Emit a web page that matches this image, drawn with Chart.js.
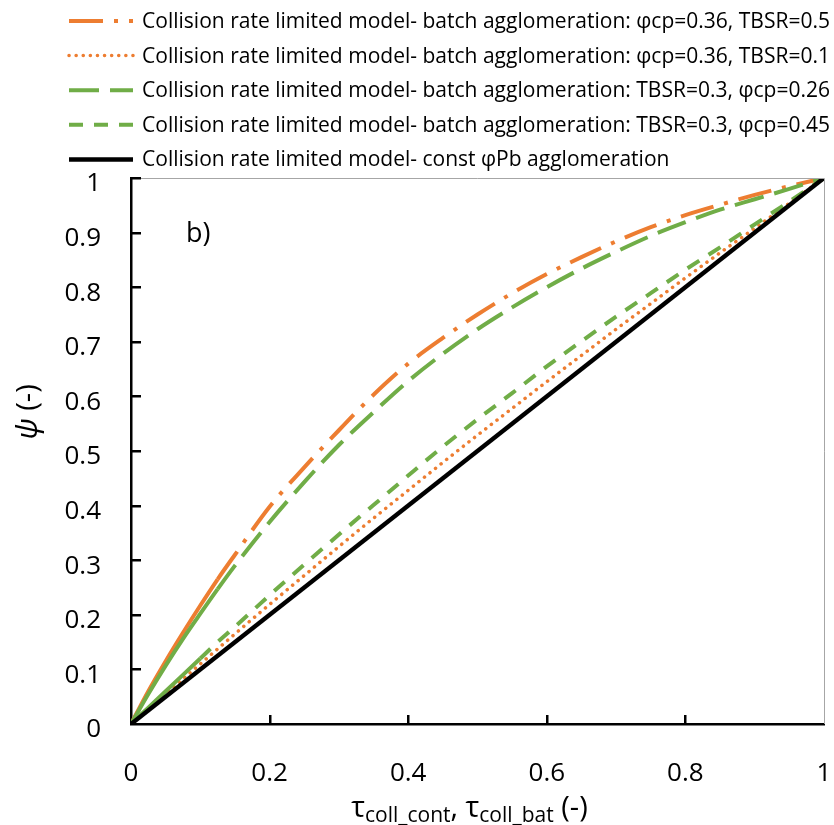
<!DOCTYPE html>
<html>
<head>
<meta charset="utf-8">
<script src="https://cdn.jsdelivr.net/npm/chart.js@4.4.1/dist/chart.umd.min.js"></script>
<style>
  html, body { margin: 0; padding: 0; background: #fff; }
  #wrap { width: 834px; height: 825px; }
</style>
</head>
<body>
<div id="wrap"><canvas id="myChart" width="834" height="825"></canvas></div>
<script>
// tau values (x) shared by the batch curves
const tau = [0, 0.025, 0.05, 0.075, 0.1, 0.125, 0.15, 0.2, 0.25, 0.3, 0.35, 0.4, 0.45, 0.5, 0.55, 0.6, 0.65, 0.7, 0.75, 0.8, 0.85, 0.9, 0.95, 1];
// psi values
const psiCp036Tbsr05 = [0, 0.06, 0.115, 0.167, 0.217, 0.265, 0.31, 0.398, 0.47, 0.538, 0.603, 0.66, 0.707, 0.75, 0.789, 0.824, 0.855, 0.884, 0.91, 0.932, 0.951, 0.969, 0.985, 1];
const psiCp036Tbsr01 = [0, 0.0275, 0.055, 0.0825, 0.11, 0.1375, 0.165, 0.219, 0.272, 0.325, 0.377, 0.428, 0.479, 0.529, 0.578, 0.627, 0.675, 0.723, 0.77, 0.817, 0.863, 0.908, 0.954, 1];
const psiTbsr03Cp026 = [0, 0.055, 0.107, 0.156, 0.202, 0.247, 0.29, 0.37, 0.443, 0.511, 0.571, 0.628, 0.678, 0.723, 0.763, 0.8, 0.834, 0.865, 0.894, 0.919, 0.942, 0.961, 0.98, 1];
const psiTbsr03Cp045 = [0, 0.03, 0.06, 0.09, 0.12, 0.15, 0.178, 0.236, 0.292, 0.347, 0.401, 0.455, 0.508, 0.558, 0.606, 0.655, 0.701, 0.746, 0.789, 0.832, 0.873, 0.915, 0.957, 1];
// constant phiPb agglomeration
const tauConst = [0, 1];
const psiConst = [0, 1];

const seriesLabels = [
  'Collision rate limited model- batch agglomeration: \u03c6cp=0.36, TBSR=0.5',
  'Collision rate limited model- batch agglomeration: \u03c6cp=0.36, TBSR=0.1',
  'Collision rate limited model- batch agglomeration: TBSR=0.3, \u03c6cp=0.26',
  'Collision rate limited model- batch agglomeration: TBSR=0.3, \u03c6cp=0.45',
  'Collision rate limited model- const \u03c6Pb agglomeration'
];
const xTicks = [0, 0.2, 0.4, 0.6, 0.8, 1];

const ORANGE = '#ed7d31';
const GREEN = '#70ad47';
const FONT = "'Open Sans', 'Liberation Sans', sans-serif";

function pts(xs, ys) {
  return xs.map((x, i) => ({ x: x, y: ys[i] }));
}
// first stretch of some curves is drawn solid in the original
function solidStart(limit) {
  return { borderDash: c => (c.p1.parsed.x <= limit ? [] : undefined) };
}

const datasets = [
  { label: seriesLabels[0], data: pts(tau, psiCp036Tbsr05), borderColor: ORANGE, borderWidth: 4,
    borderDash: [34, 11, 4, 11], segment: solidStart(0.125), order: 4 },
  { label: seriesLabels[1], data: pts(tau, psiCp036Tbsr01), borderColor: ORANGE, borderWidth: 3.5,
    borderDash: [0.1, 7], borderCapStyle: 'round', order: 3 },
  { label: seriesLabels[2], data: pts(tau, psiTbsr03Cp026), borderColor: GREEN, borderWidth: 4,
    borderDash: [30, 11], segment: solidStart(0.125), order: 2 },
  { label: seriesLabels[3], data: pts(tau, psiTbsr03Cp045), borderColor: GREEN, borderWidth: 4,
    borderDash: [14, 11], segment: solidStart(0.1), order: 1 },
  { label: seriesLabels[4], data: pts(tauConst, psiConst), borderColor: '#000', borderWidth: 4.5,
    borderDash: [], order: 0 }
];

// legend, axis titles, inner ticks and frame
const decor = {
  id: 'decor',
  afterDraw(chart) {
    const { ctx, chartArea: a, scales: { x, y } } = chart;
    ctx.save();

    // gray top / right frame
    ctx.strokeStyle = '#a6a6a6';
    ctx.lineWidth = 1;
    ctx.beginPath();
    ctx.moveTo(a.left, a.top + 0.5);
    ctx.lineTo(a.right + 0.5, a.top + 0.5);
    ctx.lineTo(a.right + 0.5, a.bottom);
    ctx.stroke();

    // inward tick marks
    ctx.strokeStyle = '#000';
    ctx.lineWidth = 2.5;
    ctx.beginPath();
    y.ticks.forEach(t => {
      if (t.value <= 0) return;
      const py = Math.round(y.getPixelForValue(t.value)) + 0.25;
      ctx.moveTo(a.left, py);
      ctx.lineTo(a.left + 10, py);
    });
    x.ticks.forEach(t => {
      if (t.value <= 0 || t.value >= 1) return;
      const px = Math.round(x.getPixelForValue(t.value)) + 0.25;
      ctx.moveTo(px, a.bottom);
      ctx.lineTo(px, a.bottom - 9);
    });
    ctx.stroke();

    // legend
    ctx.font = '21px ' + FONT;
    ctx.fillStyle = '#000';
    ctx.textBaseline = 'alphabetic';
    const widest = Math.max(...seriesLabels.map(s => ctx.measureText(s).width));
    const sx = 688 / widest;
    chart.data.datasets.forEach((ds, i) => {
      const rowY = 21 + i * 34.6;
      ctx.save();
      ctx.strokeStyle = ds.borderColor;
      ctx.lineWidth = ds.borderWidth;
      ctx.lineCap = ds.borderCapStyle || 'butt';
      ctx.setLineDash(ds.borderDash || []);
      ctx.beginPath();
      ctx.moveTo(69, rowY);
      ctx.lineTo(133, rowY);
      ctx.stroke();
      ctx.restore();
      ctx.save();
      ctx.translate(142, rowY + 7);
      ctx.scale(sx, 1);
      ctx.fillText(ds.label, 0, 0);
      ctx.restore();
    });

    // panel letter
    ctx.font = '27px ' + FONT;
    ctx.fillText('b)', a.left + 55, a.top + 64);

    // y title: psi (-)
    ctx.save();
    ctx.translate(37, 412);
    ctx.rotate(-Math.PI / 2);
    ctx.font = 'italic 30px ' + FONT;
    const wPsi = ctx.measureText('\u03c8').width;
    ctx.font = '29px ' + FONT;
    const wRest = ctx.measureText(' (-)').width;
    let cx = -(wPsi + wRest) / 2;
    ctx.font = 'italic 30px ' + FONT;
    ctx.fillText('\u03c8', cx, 0);
    ctx.font = '29px ' + FONT;
    ctx.fillText(' (-)', cx + wPsi, 0);
    ctx.restore();

    // x title with subscripts
    const parts = [
      ['\u03c4', 0], ['coll_cont', 1], [', \u03c4', 0], ['coll_bat', 1], [' (-)', 0]
    ];
    const fontFor = sub => (sub ? '21px ' : '29px ') + FONT;
    let total = 0;
    parts.forEach(p => { ctx.font = fontFor(p[1]); total += ctx.measureText(p[0]).width; });
    let px = (a.left + a.right) / 2 - 8 - total / 2;
    parts.forEach(p => {
      ctx.font = fontFor(p[1]);
      ctx.fillText(p[0], px, p[1] ? 822 : 817);
      px += ctx.measureText(p[0]).width;
    });

    ctx.restore();
  }
};

const config = {
  type: 'line',
  data: { datasets },
  options: {
    responsive: false,
    animation: false,
    cubicInterpolationMode: 'monotone',
    elements: { point: { radius: 0 } },
    layout: { padding: { top: 178, right: 10, left: 0, bottom: 0 } },
    plugins: { legend: { display: false }, tooltip: { enabled: false } },
    scales: {
      x: {
        type: 'linear',
        min: 0, max: 1,
        afterFit: s => { s.height = 101; },
        afterBuildTicks: s => { s.ticks = xTicks.map(v => ({ value: v })); },
        ticks: {
          font: { family: FONT, size: 26 },
          color: '#000',
          padding: 2,
          maxRotation: 0,
          callback: v => String(+v.toFixed(1))
        },
        grid: { display: true, drawOnChartArea: false, drawTicks: true, tickLength: 32, tickColor: 'rgba(0,0,0,0)' },
        border: { color: '#000', width: 2.5 }
      },
      y: {
        type: 'linear',
        min: 0, max: 1,
        afterFit: s => { s.width = 131; },
        ticks: {
          stepSize: 0.1,
          font: { family: FONT, size: 26 },
          color: '#000',
          padding: 30,
          labelOffset: 6,
          callback: v => String(+v.toFixed(1))
        },
        grid: { display: true, drawOnChartArea: false, drawTicks: false },
        border: { color: '#000', width: 2.5 }
      }
    }
  },
  plugins: [decor]
};

const myChart = new Chart(document.getElementById('myChart'), config);
</script>
</body>
</html>
